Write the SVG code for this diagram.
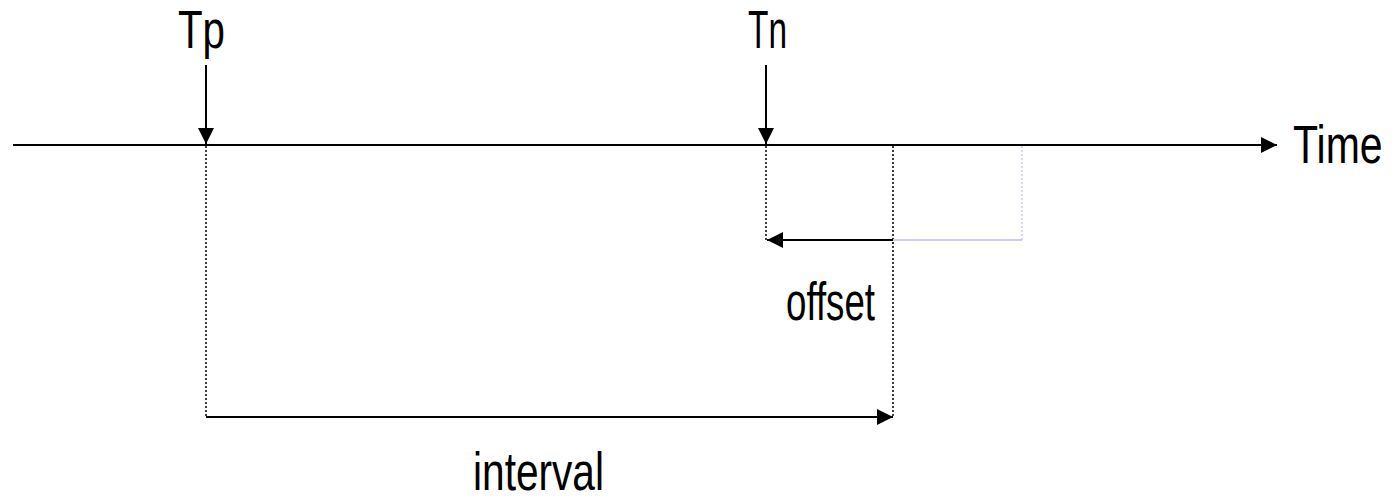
<svg xmlns="http://www.w3.org/2000/svg" width="1393" height="499" viewBox="0 0 1393 499">
<style>
.t{font-family:"Liberation Sans",Arial,sans-serif;font-size:54px;fill:#000}
.ln{stroke:#000;stroke-width:2;fill:none}
.dot{stroke:#000;stroke-width:1.5;stroke-dasharray:2,2;fill:none}
.lb{stroke:#ccccf5;stroke-width:2;fill:none}
.lbd{stroke:#ccccf5;stroke-width:1.5;stroke-dasharray:2,2;fill:none}
</style>
<defs>
<marker id="ah" markerWidth="16" markerHeight="16" viewBox="0 0 16 16" refX="16" refY="8" orient="auto" markerUnits="userSpaceOnUse">
<path d="M0,0 L16,8 L0,16 Z" fill="#000"/>
</marker>
</defs>
<rect width="1393" height="499" fill="#fff"/>
<g id="connectors">
<line class="ln" x1="13" y1="145" x2="1277" y2="145" marker-end="url(#ah)"/>
<line class="ln" x1="206" y1="65" x2="206" y2="144" marker-end="url(#ah)"/>
<line class="ln" x1="766" y1="65" x2="766" y2="144" marker-end="url(#ah)"/>
<line class="dot" x1="206" y1="146" x2="206" y2="417"/>
<line class="dot" x1="766" y1="146" x2="766" y2="240"/>
<line class="dot" x1="893" y1="146" x2="893" y2="418"/>
<line class="lbd" x1="1022" y1="146" x2="1022" y2="240"/>
<line class="lb" x1="893" y1="240" x2="1022" y2="240"/>
<line class="ln" x1="893" y1="240" x2="767" y2="240" marker-end="url(#ah)"/>
<line class="ln" x1="206" y1="417" x2="893" y2="417" marker-end="url(#ah)"/>
</g>
<g id="Tp"><text class="t" x="178" y="48" textLength="47" lengthAdjust="spacingAndGlyphs">Tp</text></g>
<g id="Tn"><text class="t" x="748" y="48" textLength="39" lengthAdjust="spacingAndGlyphs">Tn</text></g>
<g id="Time" transform="translate(1293,163) scale(0.76,1)"><text class="t" x="0" y="0">Time</text></g>
<g id="offset"><text class="t" x="786" y="320" textLength="89" lengthAdjust="spacingAndGlyphs">offset</text></g>
<g id="interval"><text class="t" x="473" y="490" textLength="131" lengthAdjust="spacingAndGlyphs">interval</text></g>
</svg>
